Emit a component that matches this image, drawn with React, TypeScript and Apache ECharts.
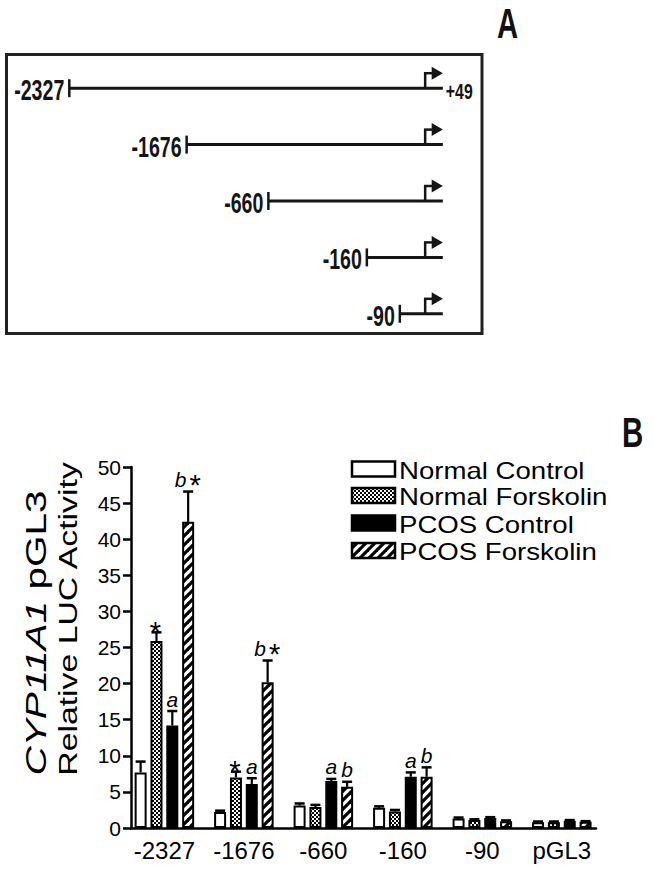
import React, { useEffect, useRef } from 'react';
import * as echarts from 'echarts';

// ---------- Panel B data ----------
const categories = ['-2327', '-1676', '-660', '-160', '-90', 'pGL3'];
const seriesNames = ['Normal Control', 'Normal Forskolin', 'PCOS Control', 'PCOS Forskolin'];
const normalControl = [7.7, 2.2, 3.1, 2.8, 1.3, 0.8];
const normalControlErr = [1.5, 0.2, 0.3, 0.2, 0.15, 0.1];
const normalForskolin = [25.9, 7.0, 2.9, 2.3, 1.1, 0.8];
const normalForskolinErr = [1.2, 0.8, 0.3, 0.2, 0.1, 0.1];
const pcosControl = [14.2, 6.1, 6.5, 7.1, 1.4, 1.0];
const pcosControlErr = [2.0, 0.8, 0.3, 0.6, 0.1, 0.1];
const pcosForskolin = [42.4, 20.2, 5.7, 7.1, 0.95, 0.85];
const pcosForskolinErr = [4.2, 3.0, 0.7, 1.3, 0.1, 0.1];
const normalControlMarks = ['', '', '', '', '', ''];
const normalForskolinMarks = ['*', '*', '', '', '', ''];
const pcosControlMarks = ['a', 'a', 'a', 'a', '', ''];
const pcosForskolinMarks = ['b *', 'b *', 'b', 'b', '', ''];
const yMin = 0;
const yMax = 50;
const yInterval = 5;

// ---------- Panel A data (schematic, not to scale) ----------
const constructs = ['-2327', '-1676', '-660', '-160', '-90'];
const constructStart = [13.45, 38.0, 55.1, 75.7, 82.6];
const tssPos = 87.9;
const endPos = 91.6;
const endLabel = '+49';

const FONT = '"Liberation Sans", Arial, Helvetica, sans-serif';
const BAR_W = 12;
const BAR_GAP = 0.32;

function makeChecker() {
  const c = document.createElement('canvas');
  c.width = 4;
  c.height = 4;
  const ctx = c.getContext('2d')!;
  ctx.fillStyle = '#fff';
  ctx.fillRect(0, 0, 4, 4);
  ctx.fillStyle = '#000';
  ctx.fillRect(0, 0, 2, 2);
  ctx.fillRect(2, 2, 2, 2);
  return c;
}

function makeHatch() {
  const s = 9;
  const c = document.createElement('canvas');
  c.width = s;
  c.height = s;
  const ctx = c.getContext('2d')!;
  ctx.fillStyle = '#fff';
  ctx.fillRect(0, 0, s, s);
  ctx.strokeStyle = '#000';
  ctx.lineWidth = 3.2;
  for (const k of [-1, 0, 1]) {
    ctx.beginPath();
    ctx.moveTo(k * s - 1, s + 1);
    ctx.lineTo(k * s + s + 1, -1);
    ctx.stroke();
  }
  return c;
}

export default function App() {
  const ref = useRef<HTMLDivElement>(null);

  useEffect(() => {
    if (!ref.current) return;
    const chart = echarts.init(ref.current, undefined, { renderer: 'svg' });

    const checker = { image: makeChecker(), repeat: 'repeat' };
    const hatch = { image: makeHatch(), repeat: 'repeat' };
    const fills: any[] = ['#fff', checker, '#000', hatch];

    const groups = [
      { vals: normalControl, err: normalControlErr, marks: normalControlMarks },
      { vals: normalForskolin, err: normalForskolinErr, marks: normalForskolinMarks },
      { vals: pcosControl, err: pcosControlErr, marks: pcosControlMarks },
      { vals: pcosForskolin, err: pcosForskolinErr, marks: pcosForskolinMarks },
    ];

    const errItems: { value: number[]; mark: string }[] = [];
    groups.forEach((g, s) =>
      g.vals.forEach((v, c) => errItems.push({ value: [c, v, g.err[c], s], mark: g.marks[c] }))
    );

    const barSeries = groups.map((g, s) => ({
      type: 'bar',
      name: seriesNames[s],
      xAxisIndex: 0,
      yAxisIndex: 0,
      data: g.vals.map((v, i) => [i, v]),
      barWidth: BAR_W,
      barGap: `${BAR_GAP * 100}%`,
      itemStyle: { color: fills[s], borderColor: '#000', borderWidth: 2 },
      z: 2,
    }));

    const errSeries = {
      type: 'custom',
      xAxisIndex: 0,
      yAxisIndex: 0,
      z: 5,
      clip: false,
      data: errItems.map((d) => d.value),
      renderItem: (params: any, api: any) => {
        const c = api.value(0);
        const v = api.value(1);
        const e = api.value(2);
        const s = api.value(3);
        const p0 = api.coord([c, v]);
        const p1 = api.coord([c, v + e]);
        const x = p0[0] + (s - 1.5) * BAR_W * (1 + BAR_GAP);
        const capY = p1[1];
        const children: any[] = [
          { type: 'line', shape: { x1: x, y1: p0[1], x2: x, y2: capY }, style: { stroke: '#000', lineWidth: 2.2 } },
          { type: 'line', shape: { x1: x - 5, y1: capY, x2: x + 5, y2: capY }, style: { stroke: '#000', lineWidth: 2.5 } },
        ];
        const mark = errItems[params.dataIndex].mark;
        if (mark) {
          const letter = mark.replace(/[\s*]/g, '');
          const star = mark.indexOf('*') >= 0;
          const letterStyle = (lx: number) => ({
            type: 'text',
            x: lx,
            y: capY - 12,
            style: { text: letter, fontSize: 21, fontStyle: 'italic', fontFamily: FONT, fill: '#000', align: 'center', verticalAlign: 'middle' },
          });
          const starStyle = (sx: number, sy: number) => ({
            type: 'text',
            x: sx,
            y: sy,
            style: { text: '*', fontSize: 29, fontFamily: FONT, fill: '#000', align: 'center', verticalAlign: 'middle' },
          });
          if (letter && star) {
            children.push(letterStyle(x - 7.5));
            children.push(starStyle(x + 7, capY - 6.2));
          } else if (letter) {
            children.push(letterStyle(x));
          } else if (star) {
            children.push(starStyle(x - 1, capY - 0.7));
          }
        }
        return { type: 'group', children };
      },
    };

    const diagramSeries = {
      type: 'custom',
      xAxisIndex: 1,
      yAxisIndex: 1,
      clip: false,
      data: constructStart.map((v, i) => [v, i]),
      renderItem: (params: any, api: any) => {
        const row = api.value(1);
        const s = api.coord([api.value(0), row]);
        const e = api.coord([endPos, row]);
        const t = api.coord([tssPos, row]);
        const y = s[1];
        const col = '#151515';
        const children: any[] = [
          { type: 'line', shape: { x1: s[0], y1: y, x2: e[0], y2: y }, style: { stroke: col, lineWidth: 3 } },
          { type: 'line', shape: { x1: s[0], y1: y - 9, x2: s[0], y2: y + 9 }, style: { stroke: col, lineWidth: 2.5 } },
          { type: 'line', shape: { x1: t[0], y1: y, x2: t[0], y2: y - 15 }, style: { stroke: col, lineWidth: 2.5 } },
          { type: 'line', shape: { x1: t[0] - 1.2, y1: y - 15, x2: t[0] + 8, y2: y - 15 }, style: { stroke: col, lineWidth: 2.5 } },
          {
            type: 'polygon',
            shape: { points: [[t[0] + 6.5, y - 21.5], [t[0] + 6.5, y - 8.5], [e[0], y - 15]] },
            style: { fill: col },
          },
          {
            type: 'text',
            x: s[0] - 5,
            y: y + 1.5,
            scaleX: 0.7,
            scaleY: 1.05,
            style: { text: constructs[params.dataIndex], fontSize: 28, fontWeight: 'bold', fontFamily: FONT, fill: col, align: 'right', verticalAlign: 'middle' },
          },
        ];
        if (params.dataIndex === 0) {
          children.push({
            type: 'text',
            x: e[0] + 3,
            y: y + 3,
            scaleX: 0.72,
            style: { text: endLabel, fontSize: 22, fontWeight: 'bold', fontFamily: FONT, fill: col, align: 'left', verticalAlign: 'middle' },
          });
        }
        return { type: 'group', children };
      },
    };

    const legendCenters = [469, 495.5, 523, 550.5];
    const legendGraphics: any[] = [];
    seriesNames.forEach((n, i) => {
      legendGraphics.push({
        type: 'rect',
        shape: { x: 352, y: legendCenters[i] - 7.5, width: 43, height: 15 },
        style: { fill: fills[i], stroke: '#000', lineWidth: 2.5 },
      });
      legendGraphics.push({
        type: 'text',
        x: 399,
        y: legendCenters[i] + 1.5,
        scaleX: 1.2,
        style: { text: n, fontSize: 23, fontFamily: FONT, fill: '#000', align: 'left', verticalAlign: 'middle' },
      });
    });

    const option: any = {
      animation: false,
      backgroundColor: '#fff',
      grid: [
        { left: 131, right: 57, top: 467, bottom: 45 },
        { left: 5, top: 60, width: 478, height: 282 },
      ],
      xAxis: [
        {
          type: 'value',
          gridIndex: 0,
          min: -0.42,
          max: 5.43,
          axisLine: { show: true, onZero: false, lineStyle: { color: '#000', width: 2.5 } },
          axisTick: { show: false },
          splitLine: { show: false },
          axisLabel: {
            customValues: [0, 1, 2, 3, 4, 5],
            formatter: (v: number) => categories[Math.round(v)],
            fontSize: 24,
            color: '#000',
            margin: 10,
            fontFamily: FONT,
          },
        },
        { type: 'value', gridIndex: 1, min: 0, max: 100, show: false },
      ],
      yAxis: [
        {
          type: 'value',
          gridIndex: 0,
          min: yMin,
          max: yMax,
          interval: yInterval,
          axisLine: { show: true, onZero: false, lineStyle: { color: '#000', width: 2.5 } },
          axisTick: { show: true, length: 8, lineStyle: { color: '#000', width: 2.5 } },
          axisLabel: { color: '#000', fontSize: 21, fontFamily: FONT, margin: 10 },
          splitLine: { show: false },
        },
        { type: 'category', gridIndex: 1, data: constructs, inverse: true, show: false },
      ],
      graphic: [
        {
          type: 'rect',
          shape: { x: 6.5, y: 54.5, width: 475.5, height: 279 },
          style: { fill: 'none', stroke: '#222', lineWidth: 3 },
        },
        {
          type: 'text',
          x: 507.5,
          y: 23,
          scaleX: 0.86,
          scaleY: 1.25,
          style: { text: 'A', fontSize: 34, fontWeight: 'bold', fontFamily: FONT, fill: '#111', align: 'center', verticalAlign: 'middle' },
        },
        {
          type: 'text',
          x: 632.5,
          y: 433,
          scaleX: 0.7,
          style: { text: 'B', fontSize: 42, fontWeight: 'bold', fontFamily: FONT, fill: '#111', align: 'center', verticalAlign: 'middle' },
        },
        {
          type: 'text',
          x: 36,
          y: 633,
          rotation: Math.PI / 2,
          scaleX: 1.35,
          style: {
            text: '{i|CYP11A1} pGL3',
            rich: { i: { fontStyle: 'italic', fontSize: 30, fontFamily: FONT, fill: '#000' } },
            fontSize: 30,
            fontFamily: FONT,
            fill: '#000',
            align: 'center',
            verticalAlign: 'middle',
          },
        },
        {
          type: 'text',
          x: 68,
          y: 619,
          rotation: Math.PI / 2,
          scaleX: 1.3,
          style: { text: 'Relative LUC Activity', fontSize: 26, fontFamily: FONT, fill: '#000', align: 'center', verticalAlign: 'middle' },
        },
        ...legendGraphics,
      ],
      series: [...barSeries, errSeries, diagramSeries],
    };

    chart.setOption(option);
    return () => chart.dispose();
  }, []);

  return <div ref={ref} style={{ position: 'absolute', left: 0, top: 0, width: 653, height: 873 }} />;
}
